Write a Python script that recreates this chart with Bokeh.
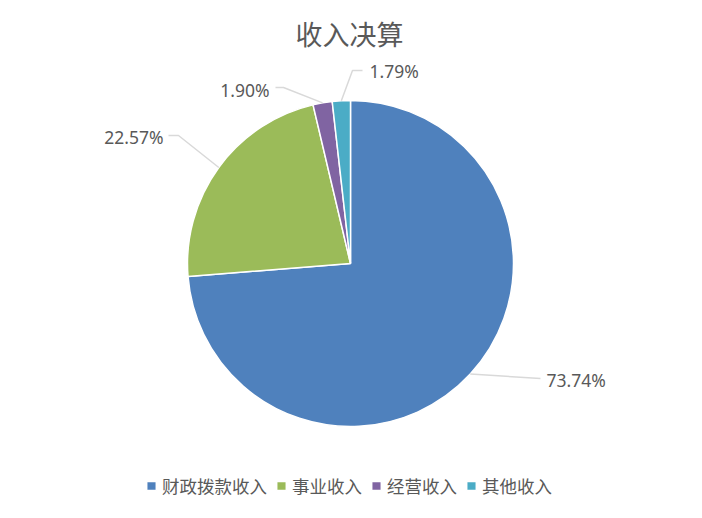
import numpy as np
from bokeh.plotting import figure
from bokeh.models import ColumnDataSource, Range1d, Legend, LegendItem, Label
from bokeh.core.properties import value
from bokeh.embed import file_html
from bokeh.resources import INLINE

# ---- data ----
categories = ["财政拨款收入", "事业收入", "经营收入", "其他收入"]
shares = [73.74, 22.57, 1.90, 1.79]
pct_labels = ["73.74%", "22.57%", "1.90%", "1.79%"]
colors = ["#4F81BD", "#9BBB59", "#8064A2", "#4BACC6"]
title_text = "收入决算"

# ---- layout (page pixel coordinates of the 702x518 chart) ----
W, H = 686, 502


def sy(y):
    # page y (top-down) -> data y (bottom-up)
    return 518 - y


cx, cy, R = 350, sy(263), 163

frac = np.array(shares) / np.sum(shares)
cum_end = np.cumsum(frac)
cum_start = cum_end - frac
start = np.pi / 2 - 2 * np.pi * cum_start
end = np.pi / 2 - 2 * np.pi * cum_end
mid = (start + end) / 2

p = figure(width=W, height=H, x_range=Range1d(0, W), y_range=Range1d(518 - H, 518),
           x_axis_type=None, y_axis_type=None, toolbar_location=None,
           output_backend="svg", min_border=0)
p.grid.visible = False
p.outline_line_color = None
p.background_fill_color = "white"
p.border_fill_color = "white"

renderers = []
for i in range(len(categories)):
    src = ColumnDataSource(dict(x=[cx], y=[cy], s=[start[i]], e=[end[i]]))
    r = p.wedge(x="x", y="y", radius=R, start_angle="s", end_angle="e", direction="clock",
                fill_color=colors[i], line_color="white", line_width=1.5, source=src)
    renderers.append(r)

# leader lines: arc point from data, elbow/end + text anchor as layout
elbows = [(540, sy(378)), (178, sy(135)), (283, sy(87)), (352, sy(70))]
ends = [(540, sy(378)), (168, sy(135)), (275, sy(87)), (362, sy(70))]
text_pos = [(546, sy(379)), (163, sy(136)), (269, sy(89)), (369, sy(70))]
aligns = ["left", "right", "right", "left"]

xs, ys = [], []
for i in range(len(categories)):
    ax = cx + R * np.cos(mid[i])
    ay = cy + R * np.sin(mid[i])
    xs.append([ax, elbows[i][0], ends[i][0]])
    ys.append([ay, elbows[i][1], ends[i][1]])
p.multi_line(xs=xs, ys=ys, line_color="#D9D9D9", line_width=1.5)

lab_src = ColumnDataSource(dict(x=[t[0] for t in text_pos], y=[t[1] for t in text_pos],
                                text=pct_labels, align=aligns))
p.text(x="x", y="y", text="text", text_align="align", text_baseline="middle",
       text_font=value("Noto Sans"), text_font_size="17.5px", text_color="#595959",
       source=lab_src)

title = Label(x=349, y=sy(33), text=title_text, text_align="center", text_baseline="middle",
              text_font="Noto Sans CJK SC", text_font_size="27px", text_color="#595959",
              text_font_style="normal")
p.add_layout(title)

items = [LegendItem(label=categories[i], renderers=[renderers[i]]) for i in range(len(categories))]
legend = Legend(items=items, orientation="horizontal", location=(145, 4),
                label_text_font="Noto Sans CJK SC", label_text_font_size="17.5px",
                label_text_color="#595959", glyph_width=12, glyph_height=11,
                label_standoff=5, spacing=8, padding=0, margin=0,
                background_fill_alpha=0, border_line_alpha=0, label_height=20)
p.add_layout(legend, "center")

open("out.html", "w").write(file_html(p, INLINE))
